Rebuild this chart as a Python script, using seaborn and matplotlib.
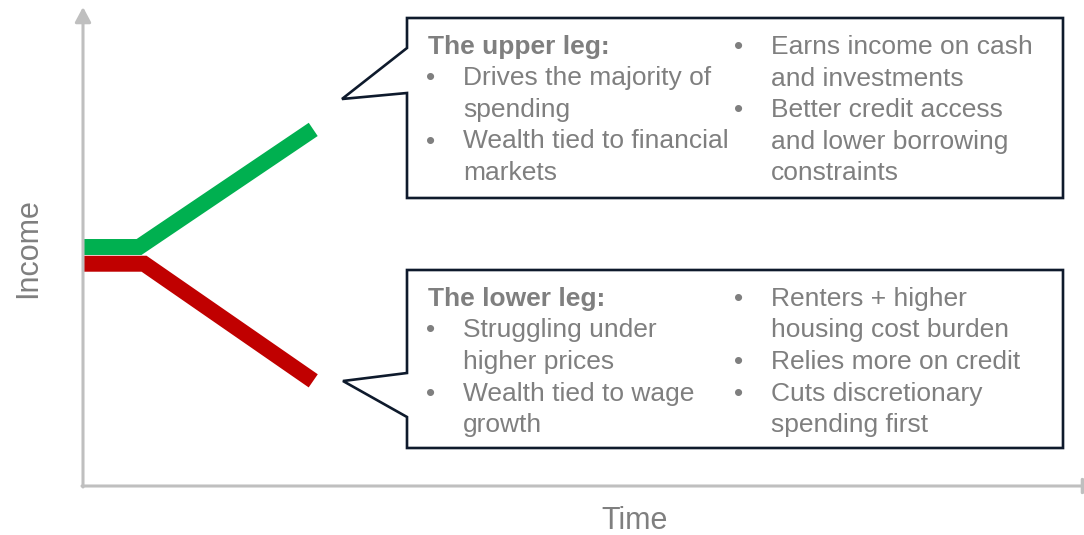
import pandas as pd
import matplotlib.pyplot as plt
import seaborn as sns
from matplotlib.patches import Polygon

sns.set_theme(style="white")
plt.rcParams['font.family'] = ['Liberation Sans', 'DejaVu Sans']

# K-shaped schematic, in chart units (0-10 on both axes)
upper_time = [0.0, 0.56, 2.3]
upper_income = [5.0, 5.0, 7.46]
lower_time = [0.0, 0.61, 2.3]
lower_income = [4.65, 4.65, 2.2]
leg_names = ['Upper leg', 'Lower leg']
leg_colors = ['#00B050', '#C00000']

upper_heading = 'The upper leg:'
upper_left = [('•', 'Drives the majority of'), ('', 'spending'),
              ('•', 'Wealth tied to financial'), ('', 'markets')]
upper_right = [('•', 'Earns income on cash'), ('', 'and investments'),
               ('•', 'Better credit access'), ('', 'and lower borrowing'),
               ('', 'constraints')]
lower_heading = 'The lower leg:'
lower_left = [('•', 'Struggling under'), ('', 'higher prices'),
              ('•', 'Wealth tied to wage'), ('', 'growth')]
lower_right = [('•', 'Renters + higher'), ('', 'housing cost burden'),
               ('•', 'Relies more on credit'), ('•', 'Cuts discretionary'),
               ('', 'spending first')]

df = pd.concat([
    pd.DataFrame({'time': upper_time, 'income': upper_income, 'leg': leg_names[0]}),
    pd.DataFrame({'time': lower_time, 'income': lower_income, 'leg': leg_names[1]}),
], ignore_index=True)

W, H = 1084, 535
fig = plt.figure(figsize=(W / 100, H / 100), dpi=100)

# data axes (origin at the corner of the drawn axis arrows)
ax = fig.add_axes([83 / W, (H - 486) / H, (W - 83) / W, (486 - 8) / H])
sns.lineplot(data=df, x='time', y='income', hue='leg', hue_order=leg_names,
             palette=dict(zip(leg_names, leg_colors)), sort=False, estimator=None,
             linewidth=11.5, solid_capstyle='butt', solid_joinstyle='miter',
             legend=False, ax=ax)
ax.set_xlim(0, 10)
ax.set_ylim(0, 10)
ax.set_axis_off()

# overlay in pixel coordinates for the schematic decorations
ov = fig.add_axes([0, 0, 1, 1], zorder=3)
ov.set_xlim(0, W)
ov.set_ylim(H, 0)
ov.set_axis_off()
ov.patch.set_alpha(0)

axis_grey = '#BFBFBF'
ov.annotate('', xy=(83, 7), xytext=(83, 487),
            arrowprops=dict(arrowstyle='-|>,head_width=0.4,head_length=0.75',
                            color=axis_grey, lw=2.2, shrinkA=0, shrinkB=0))
ov.annotate('', xy=(1098, 486), xytext=(82, 486),
            arrowprops=dict(arrowstyle='-|>,head_width=0.4,head_length=0.75',
                            color=axis_grey, lw=2.2, shrinkA=0, shrinkB=0),
            annotation_clip=False)

ov.text(635, 521, 'Time', fontsize=22, color='#7F7F7F', ha='center', va='center')
ov.text(28, 248, 'Income', fontsize=22, color='#7F7F7F', ha='center', va='center',
        rotation=90)

edge = '#0E1A2C'
text_grey = '#7F7F7F'
upper_box = [(407, 18), (1063, 18), (1063, 198), (407, 198), (407, 93),
             (342, 99), (407, 48)]
lower_box = [(407, 270), (1063, 270), (1063, 448), (407, 448), (407, 417),
             (343, 381), (407, 373)]
for pts in (upper_box, lower_box):
    ov.add_patch(Polygon(pts, closed=True, facecolor='white', edgecolor=edge,
                         lw=1.9, joinstyle='miter'))


def fill_box(top, heading, left, right):
    pitch = 31.5
    base = top + 36
    ov.text(428, base, heading, fontsize=19, fontweight='bold', color=text_grey,
            va='baseline')
    for i, (bullet, line) in enumerate(left):
        y = base + pitch * (i + 1)
        if bullet:
            ov.text(426, y, bullet, fontsize=19, color=text_grey, va='baseline')
        ov.text(463, y, line, fontsize=19, color=text_grey, va='baseline')
    for i, (bullet, line) in enumerate(right):
        y = base + pitch * i
        if bullet:
            ov.text(734, y, bullet, fontsize=19, color=text_grey, va='baseline')
        ov.text(771, y, line, fontsize=19, color=text_grey, va='baseline')


fill_box(18, upper_heading, upper_left, upper_right)
fill_box(270, lower_heading, lower_left, lower_right)

fig.savefig('out.png', dpi=100)
